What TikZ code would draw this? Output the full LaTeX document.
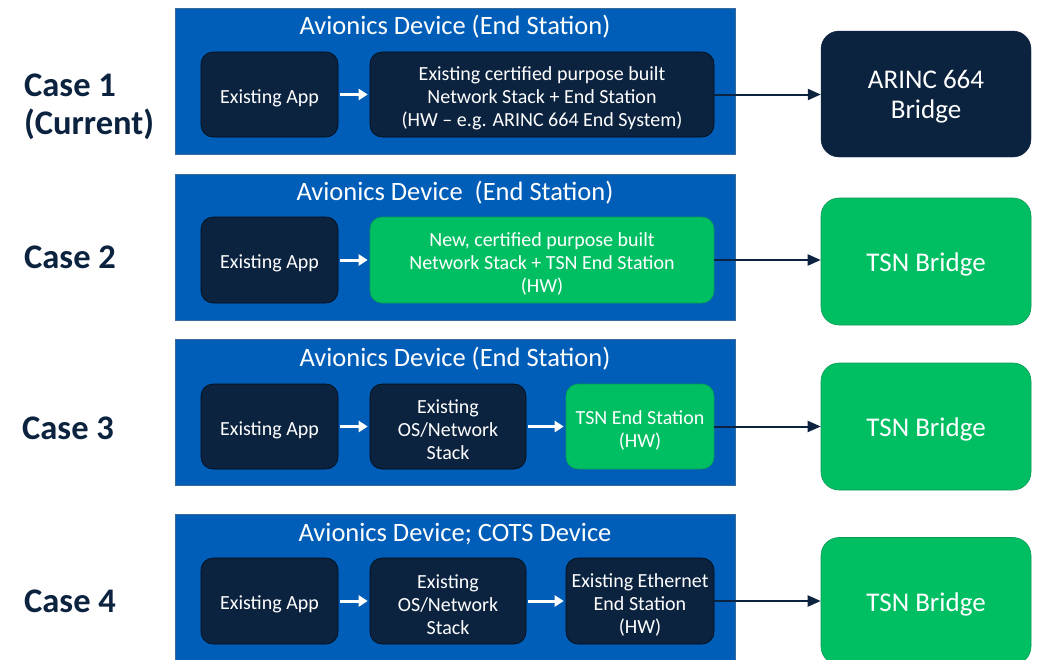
\documentclass[tikz,border=0pt]{standalone}
\usepackage{fontspec}
\setmainfont{Carlito}
\usetikzlibrary{arrows.meta}
\definecolor{devblue}{HTML}{005EB8}
\definecolor{devedge}{HTML}{3A6A9A}
\definecolor{navy}{HTML}{0C2340}
\definecolor{tsngreen}{HTML}{00BF63}
\definecolor{greenedge}{HTML}{0A9A55}
\begin{document}
\begin{tikzpicture}[x=1pt,y=-1pt,
  device/.style={draw=devedge, line width=0.8pt, fill=devblue, minimum width=560pt, minimum height=146pt, inner sep=0pt},
  devtitle/.style={text=white, font=\fontsize{26.5}{28}\selectfont, inner sep=0pt},
  darkbox/.style={draw=black!70!navy, line width=0.6pt, fill=navy, rounded corners=12pt, minimum height=85pt, inner sep=0pt},
  greenbox/.style={draw=greenedge, line width=0.6pt, fill=tsngreen, rounded corners=12pt, minimum height=85pt, inner sep=0pt},
  boxtext/.style={text=white, align=center, font=\fontsize{20}{23}\selectfont, inner sep=0pt, yshift=-3.5pt},
  darkbridge/.style={draw=navy, fill=navy, rounded corners=18pt, minimum width=210pt, minimum height=126pt, inner sep=0pt},
  greenbridge/.style={draw=greenedge, line width=0.6pt, fill=tsngreen, rounded corners=18pt, minimum width=210pt, minimum height=126pt, inner sep=0pt},
  bridgetext/.style={text=white, align=center, font=\fontsize{27}{30}\selectfont, inner sep=0pt, yshift=-3pt},
  caselabel/.style={text=navy, font=\bfseries\fontsize{34.5}{38}\selectfont, align=left, anchor=west, inner sep=0pt},
  whitearrow/.style={draw=white, line width=3pt, -{Triangle[length=9pt,width=11pt]}, shorten <=2pt, shorten >=2pt},
  linkarrow/.style={draw=navy, line width=2pt, -{Triangle[length=13pt,width=11pt]}}
]
\useasboundingbox[fill=white] (0,0) rectangle (1038,659);

% Case labels
\node[caselabel] (c1) at (24,107) {Case 1\\(Current)};
\node[caselabel] (c2) at (24,257) {Case 2};
\node[caselabel] (c3) at (22,428) {Case 3};
\node[caselabel] (c4) at (24,601) {Case 4};

% Row 1
\node[device] (d1) at (455,81) {};
\node[devtitle] (t1) at (455,27) {Avionics Device (End Station)};
\node[darkbox, minimum width=137pt] (a1) at (269.5,94.5) {};
\node[boxtext] (a1t) at (a1.center) {Existing App};
\node[darkbox, minimum width=344pt] (s1) at (542,94.5) {};
\node[boxtext] (s1t) at (s1.center) {Existing certified purpose built\\Network Stack + End Station\\(HW -- e.g. ARINC 664 End System)};
\node[darkbridge] (b1) at (926,94) {};
\node[bridgetext] (b1t) at (b1.center) {ARINC 664\\Bridge};
\draw[whitearrow] (a1) -- (s1);
\draw[linkarrow] (s1.east) -- (b1.west |- s1.east);

% Row 2
\node[device] (d2) at (455,247) {};
\node[devtitle] (t2) at (455,193) {Avionics Device\ \ (End Station)};
\node[darkbox, minimum width=137pt, minimum height=86pt] (a2) at (269.5,260) {};
\node[boxtext] (a2t) at (a2.center) {Existing App};
\node[greenbox, minimum width=344pt, minimum height=86pt] (s2) at (542,260) {};
\node[boxtext] (s2t) at (s2.center) {New, certified purpose built\\Network Stack + TSN End Station\\(HW)};
\node[greenbridge, minimum height=127pt] (b2) at (926,261.5) {};
\node[bridgetext] (b2t) at (b2.center) {TSN Bridge};
\draw[whitearrow] (a2) -- (s2);
\draw[linkarrow] (s2.east) -- (b2.west |- s2.east);

% Row 3
\node[device] (d3) at (455,412) {};
\node[devtitle] (t3) at (455,359) {Avionics Device (End Station)};
\node[darkbox, minimum width=137pt] (a3) at (269.5,426.5) {};
\node[boxtext] (a3t) at (a3.center) {Existing App};
\node[darkbox, minimum width=156pt] (o3) at (448,426.5) {};
\node[boxtext] (o3t) at (o3.center) {Existing\\OS/Network\\Stack};
\node[greenbox, minimum width=148pt] (e3) at (640,426.5) {};
\node[boxtext] (e3t) at (e3.center) {TSN End Station\\(HW)};
\node[greenbridge, minimum height=127pt] (b3) at (926,426.5) {};
\node[bridgetext] (b3t) at (b3.center) {TSN Bridge};
\draw[whitearrow] (a3) -- (o3);
\draw[whitearrow] (o3) -- (e3);
\draw[linkarrow] (e3.east) -- (b3.west |- e3.east);

% Row 4
\node[device, minimum height=148pt] (d4) at (455,588) {};
\node[devtitle] (t4) at (455,534) {Avionics Device; COTS Device};
\node[darkbox, minimum width=137pt, minimum height=86pt] (a4) at (269.5,601) {};
\node[boxtext] (a4t) at (a4.center) {Existing App};
\node[darkbox, minimum width=156pt, minimum height=86pt] (o4) at (448,601) {};
\node[boxtext] (o4t) at (o4.center) {Existing\\OS/Network\\Stack};
\node[darkbox, minimum width=148pt, minimum height=86pt] (e4) at (640,601) {};
\node[boxtext] (e4t) at (e4.center) {Existing Ethernet\\End Station\\(HW)};
\node[greenbridge, minimum height=127pt] (b4) at (926,601) {};
\node[bridgetext] (b4t) at (b4.center) {TSN Bridge};
\draw[whitearrow] (a4) -- (o4);
\draw[whitearrow] (o4) -- (e4);
\draw[linkarrow] (e4.east) -- (b4.west |- e4.east);
\end{tikzpicture}
\end{document}
